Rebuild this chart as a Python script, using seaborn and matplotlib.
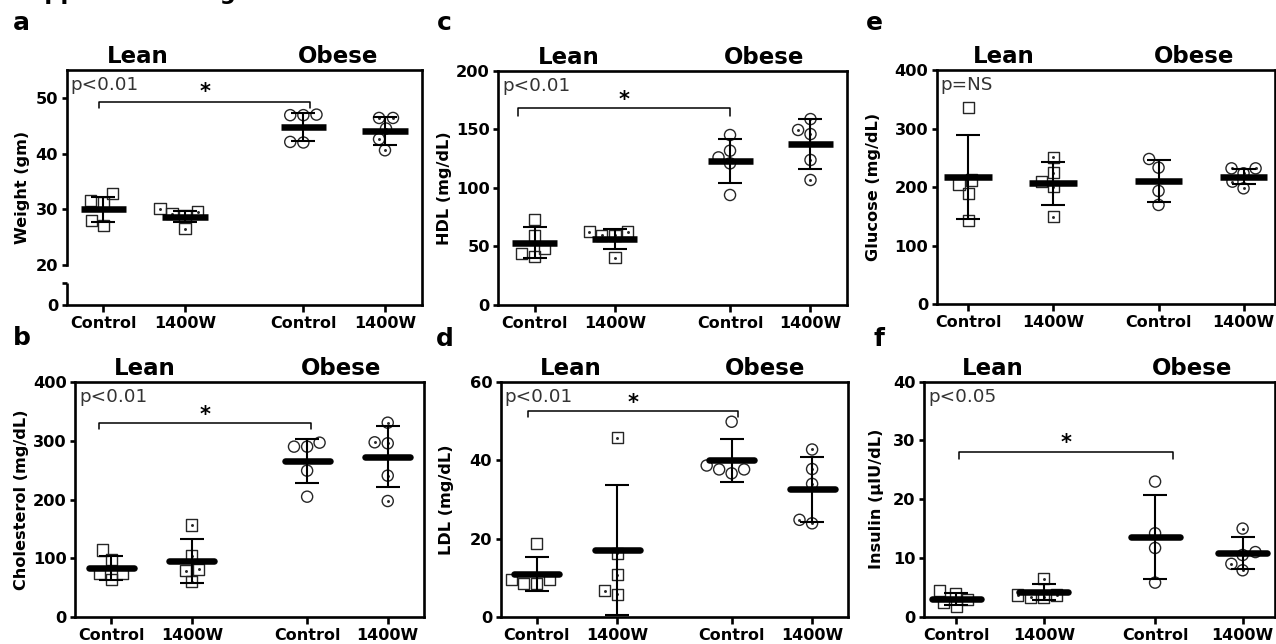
import numpy as np
import pandas as pd
import matplotlib
matplotlib.use("Agg")
import matplotlib.pyplot as plt
import matplotlib.transforms as mtransforms
import seaborn as sns

# ---------------- data ----------------
groups = ["Lean Control", "Lean 1400W", "Obese Control", "Obese 1400W"]
tick_labels = ["Control", "1400W", "Control", "1400W"]
cohorts = ["Lean", "Obese"]

weight_pts = [[32.8, 31.6, 31.2, 28.0, 27.1], [30.1, 29.6, 29.2, 28.9, 26.5],
              [47.0, 46.9, 46.9, 42.1, 42.0], [46.4, 46.4, 44.5, 42.6, 40.6]]
weight_mean = [30.0, 28.7, 44.8, 44.1]
weight_sd = [2.3, 1.05, 2.55, 2.5]

chol_pts = [[113.8, 97.9, 74.0, 74.0, 63.7], [156.5, 103.6, 80.8, 78.5, 59.7],
            [297.0, 290.2, 290.2, 249.2, 204.8], [331.1, 297.6, 295.9, 240.7, 197.4]]
chol_mean = [83.6, 95.6, 265.7, 273.1]
chol_sd = [20.2, 37.8, 37.9, 52.6]

hdl_pts = [[73.1, 59.7, 48.4, 44.1, 41.3], [62.6, 62.6, 59.7, 59.7, 40.4],
           [145.1, 131.7, 126.0, 120.9, 93.9], [158.7, 149.4, 145.9, 123.8, 106.7]]
hdl_mean = [53.2, 56.3, 123.2, 137.1]
hdl_sd = [13.0, 8.4, 18.8, 21.3]

ldl_pts = [[18.8, 9.6, 9.6, 8.5, 8.5], [45.8, 16.2, 10.7, 6.7, 5.7],
           [49.9, 38.7, 37.7, 37.7, 36.7], [42.8, 37.8, 34.0, 24.8, 23.9]]
ldl_mean = [10.9, 17.1, 40.1, 32.6]
ldl_sd = [4.35, 16.6, 5.5, 8.3]

glucose_pts = [[336.3, 212.2, 204.8, 189.5, 142.8], [250.9, 224.8, 209.4, 200.9, 149.6],
               [248.1, 233.3, 193.5, 169.6], [232.1, 232.1, 223.6, 209.4, 198.0]]
glucose_mean = [217.9, 206.5, 210.5, 217.9]
glucose_sd = [71.6, 36.7, 35.6, 13.1]

insulin_pts = [[4.4, 4.0, 3.0, 2.4, 1.8], [6.5, 3.7, 3.7, 3.3, 3.3],
               [23.0, 14.2, 11.7, 5.8], [15.0, 11.0, 10.5, 9.0, 7.9]]
insulin_mean = [3.0, 4.2, 13.6, 10.8]
insulin_sd = [1.0, 1.4, 7.2, 2.7]

p_labels = {"a": "p<0.01", "b": "p<0.01", "c": "p<0.01", "d": "p<0.01", "e": "p=NS", "f": "p<0.05"}

# ---------------- style ----------------
sns.set_theme(style="ticks")
plt.rcParams["font.family"] = ["DejaVu Sans"]

W, H = 1276, 644
fig = plt.figure(figsize=(W / 100, H / 100), dpi=100)

INK = "#262626"

# broken-axis mapping for the weight panel (0-4 | gap | 20-55)
BRK_LO, BRK_HI, BRK_GAP = 4.0, 20.0, 3.15


def fwd(y):
    y = np.asarray(y, dtype=float)
    return np.where(y <= BRK_LO, y,
                    np.where(y >= BRK_HI, y - BRK_HI + BRK_LO + BRK_GAP,
                             BRK_LO + (y - BRK_LO) * BRK_GAP / (BRK_HI - BRK_LO)))


def inv(z):
    z = np.asarray(z, dtype=float)
    return np.where(z <= BRK_LO, z,
                    np.where(z >= BRK_LO + BRK_GAP, z + BRK_HI - BRK_LO - BRK_GAP,
                             BRK_LO + (z - BRK_LO) * (BRK_HI - BRK_LO) / BRK_GAP))


panels = [
    dict(letter="a", box=(66.7, 70, 421.7, 305), pts=weight_pts, mean=weight_mean, sd=weight_sd,
         ylabel="Weight (gm)", ylim=(0, 55), yticks=[0, 4, 20, 30, 40, 50],
         yticklabels=["0", "", "20", "30", "40", "50"], bracket=(49.2, 48.2), star=51.0,
         bx=(-0.05, 0.08), gap=1.45, margin=0.45, ylab_x=23, letter_xy=(13, 30.5), broken=True,
         roundcap=False),
    dict(letter="b", box=(75, 382.3, 424, 616.7), pts=chol_pts, mean=chol_mean, sd=chol_sd,
         ylabel="Cholesterol (mg/dL)", ylim=(0, 400), yticks=[0, 100, 200, 300, 400],
         yticklabels=None, bracket=(330, 319.8), star=345,
         bx=(-0.15, 0.05), gap=1.43, margin=0.45, ylab_x=21.7, letter_xy=(13, 345), broken=False,
         roundcap=True),
    dict(letter="c", box=(498.3, 70.7, 846.7, 305), pts=hdl_pts, mean=hdl_mean, sd=hdl_sd,
         ylabel="HDL (mg/dL)", ylim=(0, 200), yticks=[0, 50, 100, 150, 200],
         yticklabels=None, bracket=(167.9, 161.3), star=175,
         bx=(-0.2, 0.0), gap=1.43, margin=0.45, ylab_x=445, letter_xy=(437, 30.5), broken=False,
         roundcap=False),
    dict(letter="d", box=(500.7, 382.3, 848.3, 616.7), pts=ldl_pts, mean=ldl_mean, sd=ldl_sd,
         ylabel="LDL (mg/dL)", ylim=(0, 60), yticks=[0, 20, 40, 60],
         yticklabels=None, bracket=(52.7, 51.0), star=54.8,
         bx=(-0.11, 0.08), gap=1.42, margin=0.45, ylab_x=446.7, letter_xy=(436, 346), broken=False,
         roundcap=True),
    dict(letter="e", box=(936.7, 70, 1275, 304.3), pts=glucose_pts, mean=glucose_mean, sd=glucose_sd,
         ylabel="Glucose (mg/dL)", ylim=(0, 400), yticks=[0, 100, 200, 300, 400],
         yticklabels=None, bracket=None, star=None,
         bx=(0, 0), gap=1.24, margin=0.37, ylab_x=873.3, letter_xy=(866, 30.5), broken=False,
         roundcap=False),
    dict(letter="f", box=(924, 381.7, 1275, 616.7), pts=insulin_pts, mean=insulin_mean, sd=insulin_sd,
         ylabel="Insulin (\u00b5IU/dL)", ylim=(0, 40), yticks=[0, 10, 20, 30, 40],
         yticklabels=None, bracket=(28.0, 26.9), star=29.6,
         bx=(0.03, 0.2), gap=1.27, margin=0.37, ylab_x=876.7, letter_xy=(873, 346), broken=False,
         roundcap=True),
]

markers = ["s", "s", "o", "o"]
dotted = [False, True, False, True]
dot_collections = []

for P in panels:
    l, t, r, b = P["box"]
    ax = fig.add_axes([l / W, 1 - b / H, (r - l) / W, (b - t) / H])
    if P["broken"]:
        ax.set_yscale("function", functions=(fwd, inv))
    g = P["gap"]
    pos = [0.0, 1.0, 1.0 + g, 2.0 + g]

    # individual animals
    for i in range(4):
        df = pd.DataFrame({"x": np.full(len(P["pts"][i]), pos[i]), "y": P["pts"][i]})
        n0 = len(ax.collections)
        sns.swarmplot(data=df, x="x", y="y", native_scale=True, ax=ax, marker=markers[i],
                      size=8.0, color=INK, facecolor="none", edgecolor=INK, linewidth=1.0,
                      zorder=2)
        if dotted[i]:
            dot_collections.append((ax, ax.collections[n0]))

    # mean bar and SD
    ax.errorbar(pos, P["mean"], yerr=P["sd"], fmt="none", ecolor="black", elinewidth=1.5,
                capsize=8.6, capthick=1.5, zorder=3)
    hw = 0.28
    ax.hlines(P["mean"], [p - hw for p in pos], [p + hw for p in pos], color="black",
              linewidth=4.7, zorder=4, capstyle="round" if P["roundcap"] else "butt")

    ax.set_xlim(-P["margin"], pos[-1] + P["margin"])
    ax.set_ylim(*P["ylim"])
    ax.set_xticks(pos)
    ax.set_xticklabels(tick_labels, fontweight="bold", fontsize=11.5, color="black")
    ax.set_yticks(P["yticks"])
    if P["yticklabels"] is not None:
        ax.set_yticklabels(P["yticklabels"])
    for lab in ax.get_yticklabels():
        lab.set_fontweight("bold")
        lab.set_fontsize(11.7)
        lab.set_color("black")
    ax.set_xlabel("")
    ax.set_ylabel("")
    ax.minorticks_off()

    for sp in ax.spines.values():
        sp.set_visible(True)
        sp.set_linewidth(1.9)
        sp.set_color("black")
    ax.tick_params(axis="y", direction="out", length=3.6, width=1.9, color="black", pad=2.5)
    ax.tick_params(axis="x", direction="out", length=5.0, width=1.9, color="black", pad=3)

    if P["broken"]:
        ax.spines["left"].set_bounds(BRK_HI, P["ylim"][1])
        yb = mtransforms.blended_transform_factory(ax.transAxes, ax.transData)
        ax.plot([0, 0], [0, BRK_LO], transform=yb, color="black", lw=1.9,
                clip_on=False, solid_capstyle="butt")

    # y label
    axw = r - l
    ax.text((P["ylab_x"] - l) / axw, 0.5, P["ylabel"], transform=ax.transAxes, rotation=90,
            ha="center", va="center", fontsize=11.6, fontweight="bold", color="black")

    # cohort labels above the frame
    top_tr = mtransforms.offset_copy(
        mtransforms.blended_transform_factory(ax.transData, ax.transAxes), fig=fig, y=7, units="dots")
    ax.text((pos[0] + pos[1]) / 2 - 0.08, 1.0, cohorts[0], transform=top_tr, ha="center",
            va="baseline", fontsize=16.5, fontweight="bold", color="black")
    ax.text((pos[2] + pos[3]) / 2 - 0.08, 1.0, cohorts[1], transform=top_tr, ha="center",
            va="baseline", fontsize=16.5, fontweight="bold", color="black")

    # p value
    p_tr = mtransforms.offset_copy(ax.transAxes, fig=fig, x=4, y=-6, units="dots")
    ax.text(0, 1, p_labels[P["letter"]], transform=p_tr, ha="left", va="top",
            fontsize=13.2, color="#333333")

    # significance bracket
    if P["bracket"] is not None:
        yb_, yl_ = P["bracket"]
        x0 = pos[0] + P["bx"][0]
        x1 = pos[2] + P["bx"][1]
        ax.plot([x0, x0, x1, x1], [yl_, yb_, yb_, yl_], color="black", lw=1.1, zorder=3)
        ax.text((x0 + x1) / 2, P["star"], "*", ha="center", va="center", fontsize=15,
                fontweight="bold", color="black")

    # panel letter
    lx, ly = P["letter_xy"]
    fig.text(lx / W, 1 - ly / H, P["letter"], ha="left", va="baseline", fontsize=18,
             fontweight="bold", color="black")

# figure title: in the reference only its descenders show at the very top edge
fig.text(12 / W, 1 + 1.5 / H, "Supplemental Figure 1", ha="left", va="baseline",
         fontsize=16.3, fontweight="bold", color="black")

# compute swarm positions, then mark the 1400W animals with a centre dot
fig.canvas.draw()
for ax, coll in dot_collections:
    off = np.asarray(coll.get_offsets())
    ax.scatter(off[:, 0], off[:, 1], s=4.5, color=INK, zorder=2.5, linewidths=0)

fig.savefig("out.png", dpi=100)
